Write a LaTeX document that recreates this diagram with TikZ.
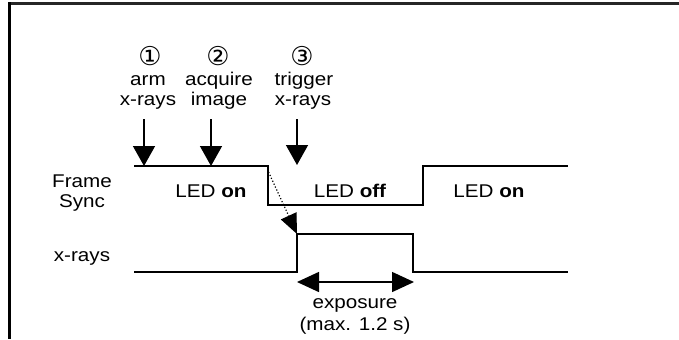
\documentclass[tikz,border=0pt]{standalone}
\usepackage{fontspec}
\setmainfont{Liberation Sans}[FakeStretch=1.12]
\newfontfamily\circfont{DejaVu Sans}
\usetikzlibrary{arrows.meta}
\begin{document}
\begin{tikzpicture}[x=1bp,y=-1bp,
  txt/.style={anchor=base,inner sep=0pt,font=\fontsize{18.5}{20.5}\selectfont},
  circ/.style={anchor=base,inner sep=0pt,font=\circfont\fontsize{26}{26}\selectfont},
  sig/.style={line width=1.8bp,line join=miter},
  bigarrow/.style={line width=1.5bp,-{Triangle[width=22bp,length=20bp]}},
  exparrow/.style={line width=1.5bp,{Triangle[width=20bp,length=22bp]}-{Triangle[width=20bp,length=22bp]}},
  dotarrow/.style={line width=1.2bp,dotted,-{Triangle[width=17bp,length=20bp]}}]
\useasboundingbox (0,0) rectangle (679,339);
% frame
\draw[line width=2.5bp,black!85] (9.7,3.5) -- (679,3.5);
\draw[line width=2.7bp] (9.7,2.3) -- (9.7,339);
% signal labels
\node[txt] (fr) at (82,187) {Frame};
\node[txt] (sy) at (82,207) {Sync};
\node[txt] (xr) at (82,261) {x-rays};
% step labels
\node[circ] (c1) at (150,65) {①};
\node[txt] (a1) at (148,85) {arm};
\node[txt] (a2) at (148,105) {x-rays};
\node[circ] (c2) at (218,65) {②};
\node[txt] (b1) at (219,85) {acquire};
\node[txt] (b2) at (219,105) {image};
\node[circ] (c3) at (302,65) {③};
\node[txt] (d1) at (304,85) {trigger};
\node[txt] (d2) at (303,105) {x-rays};
% LED labels
\node[txt] (l1) at (211,197) {LED \textbf{on}};
\node[txt] (l2) at (350,197) {LED \textbf{off}};
\node[txt] (l3) at (489,197) {LED \textbf{on}};
% exposure label
\node[txt] (e1) at (355,308) {exposure};
\node[txt] (e2) at (355,330) {(max. 1.2 s)};
% signals
\draw[sig] (134,166) -- (268,166) -- (268,205) -- (423,205) -- (423,166) -- (568,166);
\draw[sig] (134,272) -- (297,272) -- (297,234) -- (413,234) -- (413,272) -- (568,272);
% coordinates
\coordinate (s1) at (144,119);
\coordinate (t1) at (144,166);
\coordinate (s2) at (211,119);
\coordinate (t2) at (211,166);
\coordinate (s3) at (297,119);
\coordinate (t3) at (297,165);
\coordinate (ds) at (268.5,172);
\coordinate (dt) at (297,234);
\coordinate (el) at (297,282);
\coordinate (er) at (414,282);
% arrows
\draw[bigarrow] (s1) -- (t1);
\draw[bigarrow] (s2) -- (t2);
\draw[bigarrow] (s3) -- (t3);
\draw[dotarrow] (ds) -- (dt);
\draw[exparrow] (el) -- (er);
\end{tikzpicture}
\end{document}
